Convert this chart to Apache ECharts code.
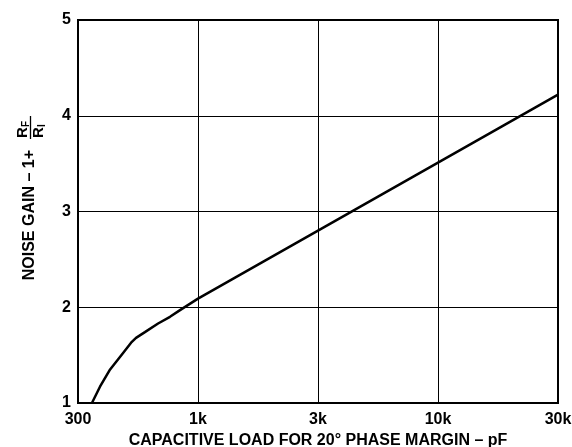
<!DOCTYPE html>
<html>
<head>
<meta charset="utf-8">
<style>
  html, body { margin: 0; padding: 0; background: #fff; }
  #chart { width: 572px; height: 447px; }
</style>
<script src="https://cdn.jsdelivr.net/npm/echarts@6/dist/echarts.min.js"></script>
</head>
<body>
<div id="chart"></div>
<script>
var capLoad = [345, 374, 414, 467, 511, 537, 587, 670, 755, 835, 1000, 3000, 10000, 30000];
var noiseGain = [1.00, 1.17, 1.35, 1.51, 1.63, 1.68, 1.74, 1.83, 1.90, 1.97, 2.09, 2.80, 3.51, 4.22];

// x gridlines are evenly spaced even though the labels are not a clean log step
var xTickValues = [300, 1000, 3000, 10000, 30000];
var xTickLabels = ['300', '1k', '3k', '10k', '30k'];
var yTicks = [1, 2, 3, 4, 5];

var FONT = '"Liberation Sans", Arial, Helvetica, sans-serif';

// place a pF value on the evenly spaced grid (log between neighbouring labels)
function toPos(c) {
    for (var i = 0; i < xTickValues.length - 1; i++) {
        var a = xTickValues[i], b = xTickValues[i + 1];
        if (c <= b || i === xTickValues.length - 2) {
            return i + Math.log(c / a) / Math.log(b / a);
        }
    }
}

var points = capLoad.map(function (c, i) { return [toPos(c), noiseGain[i]]; });

var chart = echarts.init(document.getElementById('chart'));
chart.setOption({
    animation: false,
    grid: {
        left: 78, right: 14, top: 20, bottom: 44,
        containLabel: false,
        outerBoundsMode: 'none',
        show: true, borderColor: '#000', borderWidth: 2
    },
    xAxis: {
        type: 'value',
        min: 0,
        max: xTickValues.length - 1,
        interval: 1,
        name: 'CAPACITIVE LOAD FOR 20° PHASE MARGIN – pF',
        nameLocation: 'middle',
        nameGap: 20,
        nameTextStyle: { color: '#000', fontWeight: 'bold', fontSize: 16, fontFamily: FONT },
        axisLine: { show: true, lineStyle: { color: '#000', width: 2 } },
        axisTick: { show: false },
        axisLabel: {
            color: '#000', fontWeight: 'bold', fontSize: 16, fontFamily: FONT, margin: 9,
            formatter: function (v) { return xTickLabels[Math.round(v)]; }
        },
        splitLine: { show: true, lineStyle: { color: '#000', width: 1 } }
    },
    yAxis: {
        type: 'value',
        min: yTicks[0],
        max: yTicks[yTicks.length - 1],
        interval: 1,
        axisLine: { show: true, lineStyle: { color: '#000', width: 2 } },
        axisTick: { show: false },
        axisLabel: { color: '#000', fontWeight: 'bold', fontSize: 16, fontFamily: FONT, margin: 7 },
        splitLine: { show: true, lineStyle: { color: '#000', width: 1 } }
    },
    graphic: [
        {
            // y axis title, rotated to read bottom to top
            type: 'group',
            x: 30,
            y: 150,
            rotation: Math.PI / 2,
            children: [
                {
                    type: 'text',
                    style: {
                        text: 'NOISE GAIN – 1+', x: 0, y: 0, align: 'right', verticalAlign: 'middle',
                        fill: '#000', font: 'bold 16px ' + FONT
                    }
                },
                {
                    type: 'text',
                    style: { text: 'R', x: 12, y: -7, align: 'left', verticalAlign: 'middle', fill: '#000', font: 'bold 15px ' + FONT }
                },
                {
                    type: 'text',
                    style: { text: 'F', x: 23, y: -4, align: 'left', verticalAlign: 'middle', fill: '#000', font: 'bold 10px ' + FONT }
                },
                {
                    type: 'line',
                    shape: { x1: 11, y1: 0.5, x2: 34, y2: 0.5 },
                    style: { stroke: '#000', lineWidth: 1.3 }
                },
                {
                    type: 'text',
                    style: { text: 'R', x: 12, y: 9, align: 'left', verticalAlign: 'middle', fill: '#000', font: 'bold 15px ' + FONT }
                },
                {
                    type: 'text',
                    style: { text: 'I', x: 23, y: 12, align: 'left', verticalAlign: 'middle', fill: '#000', font: 'bold 10px ' + FONT }
                }
            ]
        }
    ],
    series: [
        {
            type: 'line',
            data: points,
            showSymbol: false,
            smooth: false,
            lineStyle: { color: '#000', width: 2.5 }
        }
    ]
});
</script>
</body>
</html>
